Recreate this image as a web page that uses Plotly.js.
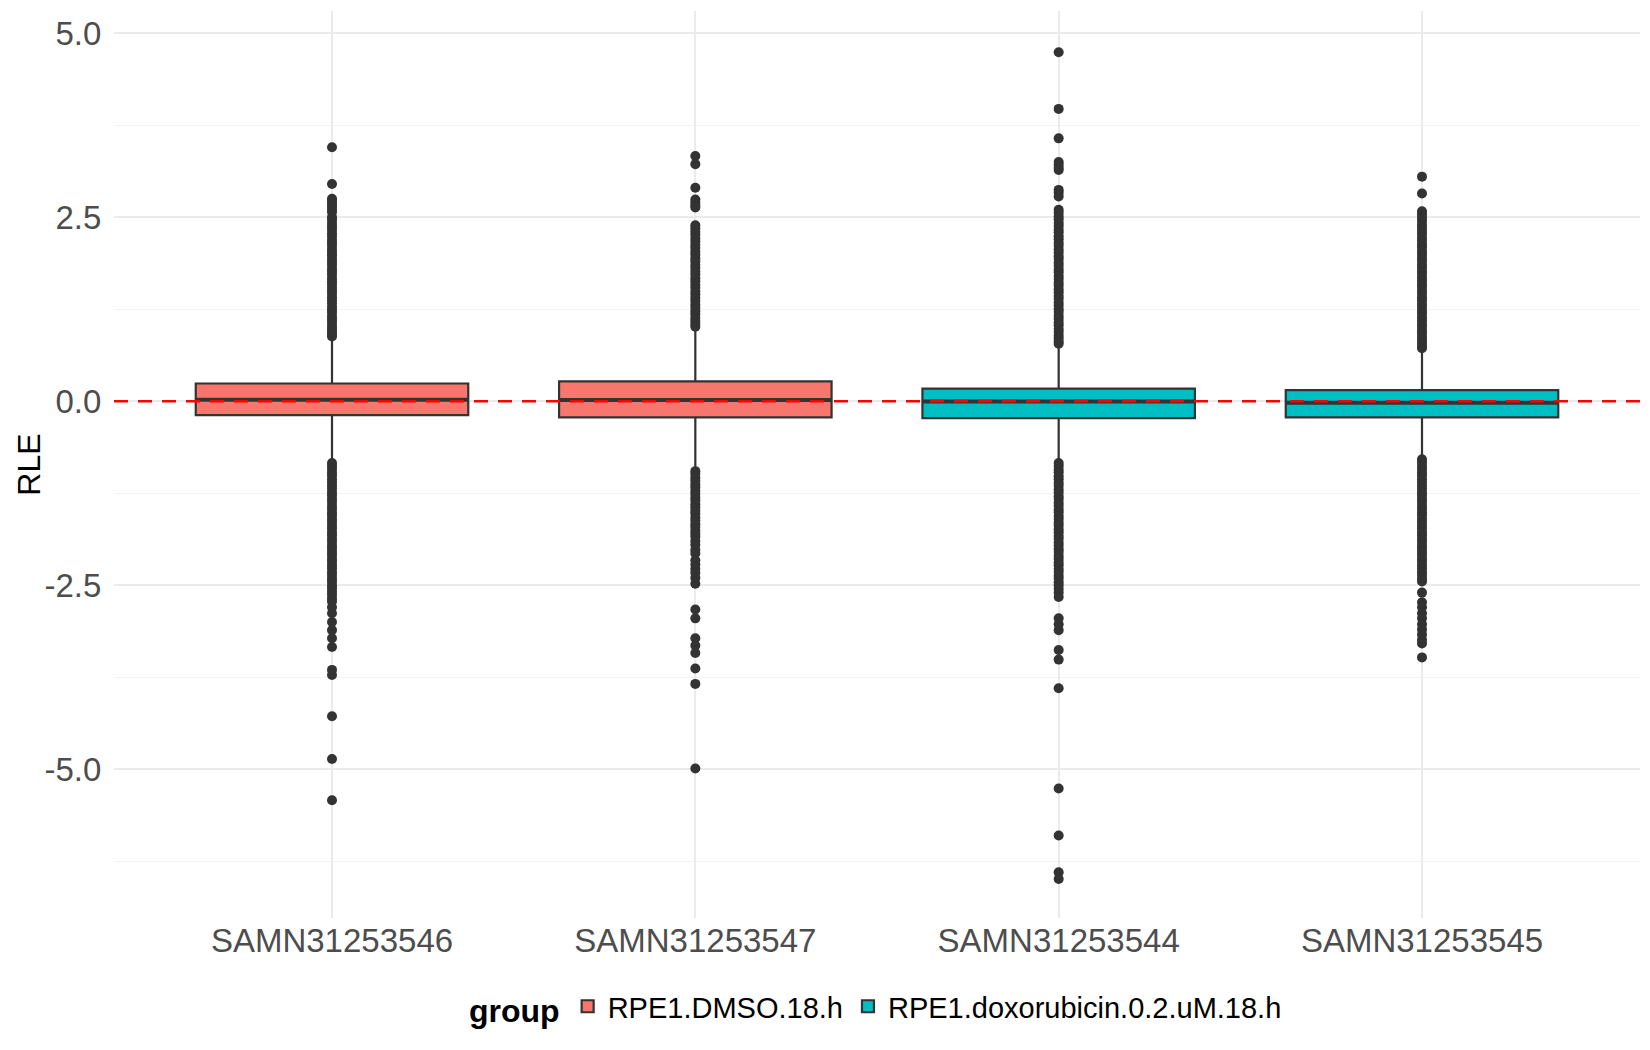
<!DOCTYPE html>
<html>
<head>
<meta charset="utf-8">
<script src="https://cdn.plot.ly/plotly-3.0.1.min.js"></script>
<style>
  html, body { margin: 0; padding: 0; background: #ffffff; }
  #chart { width: 1650px; height: 1050px; }
</style>
</head>
<body>
<div id="chart"></div>
<script>
// samples in axis order and their group
const samples = ["SAMN31253546", "SAMN31253547", "SAMN31253544", "SAMN31253545"];
const groups = ["RPE1.DMSO.18.h", "RPE1.DMSO.18.h", "RPE1.doxorubicin.0.2.uM.18.h", "RPE1.doxorubicin.0.2.uM.18.h"];
const groupNames = ["RPE1.DMSO.18.h", "RPE1.doxorubicin.0.2.uM.18.h"];
const groupColors = ["#F8766D", "#00BFC4"];

// box statistics
const q1 = [-0.19, -0.22, -0.23, -0.22];
const median = [0.02, 0.015, -0.005, -0.02];
const q3 = [0.24, 0.27, 0.17, 0.15];
const lowerFence = [-0.82, -0.94, -0.82, -0.78];
const upperFence = [0.87, 0.99, 0.77, 0.71];

// outlying points per sample
const out546 = [3.45, 2.95, 2.75, 2.72, 2.68, 2.64, 2.60, 2.57,
  2.50, 2.46, 2.41, 2.37, 2.33, 2.28, 2.24, 2.19, 2.15, 2.11, 2.06, 2.02, 1.98, 1.93, 1.89,
  1.85, 1.80, 1.76, 1.72, 1.67, 1.63, 1.59, 1.54, 1.50, 1.46, 1.41, 1.37, 1.33, 1.28, 1.24,
  1.20, 1.15, 1.11, 1.07, 1.02, 0.98, 0.94, 0.91, 0.88,
  -0.84, -0.88, -0.92, -0.97, -1.01, -1.06, -1.10, -1.15, -1.19, -1.24, -1.28, -1.33, -1.37,
  -1.42, -1.46, -1.51, -1.55, -1.60, -1.64, -1.69, -1.73, -1.78, -1.82, -1.87, -1.91, -1.96,
  -2.00, -2.05, -2.09, -2.14, -2.18, -2.23, -2.27, -2.32, -2.36, -2.41, -2.45, -2.50, -2.54,
  -2.59, -2.63, -2.68, -2.72, -2.80, -2.88, -3.00, -3.11, -3.22, -3.34,
  -3.65, -3.72, -4.28, -4.86, -5.42];
const out547 = [3.33, 3.22, 2.90, 2.74, 2.70, 2.66, 2.63,
  2.39, 2.35, 2.30, 2.26, 2.21, 2.17, 2.12, 2.08, 2.03, 1.99, 1.94, 1.90, 1.85, 1.81, 1.76,
  1.72, 1.67, 1.63, 1.58, 1.54, 1.49, 1.45, 1.40, 1.36, 1.31, 1.27, 1.22, 1.18, 1.13, 1.09,
  1.05, 1.01,
  -0.95, -0.99, -1.04, -1.08, -1.13, -1.17, -1.22, -1.26, -1.31, -1.35, -1.40, -1.44, -1.49,
  -1.53, -1.58, -1.62, -1.67, -1.71, -1.76, -1.80, -1.84, -1.90, -1.95, -2.02, -2.07,
  -2.16, -2.22, -2.28, -2.33, -2.40, -2.48, -2.83, -2.95, -3.22, -3.32, -3.42, -3.63, -3.84,
  -4.99];
const out544 = [4.74, 3.97, 3.57, 3.25, 3.21, 3.17, 3.14, 2.87, 2.83, 2.78,
  2.60, 2.56, 2.51, 2.47, 2.42, 2.38, 2.33, 2.29, 2.24, 2.20, 2.15, 2.11, 2.06, 2.02, 1.97,
  1.93, 1.88, 1.84, 1.79, 1.75, 1.70, 1.66, 1.61, 1.57, 1.52, 1.48, 1.43, 1.39, 1.34, 1.30,
  1.25, 1.21, 1.16, 1.12, 1.07, 1.03, 0.98, 0.94, 0.89, 0.85, 0.81, 0.78,
  -0.84, -0.88, -0.93, -0.97, -1.02, -1.06, -1.11, -1.15, -1.20, -1.24, -1.29, -1.33, -1.38,
  -1.42, -1.47, -1.51, -1.56, -1.60, -1.65, -1.69, -1.74, -1.78, -1.83, -1.87, -1.92, -1.96,
  -2.01, -2.05, -2.10, -2.14, -2.19, -2.23, -2.28, -2.32, -2.37, -2.41, -2.46, -2.50, -2.55,
  -2.60, -2.66, -2.95, -3.03, -3.11, -3.38, -3.51, -3.90, -5.26, -5.90, -6.40, -6.49];
const out545 = [3.05, 2.82,
  2.58, 2.54, 2.49, 2.45, 2.40, 2.36, 2.31, 2.27, 2.22, 2.18, 2.13, 2.09, 2.04, 2.00, 1.95,
  1.91, 1.86, 1.82, 1.77, 1.73, 1.68, 1.64, 1.59, 1.55, 1.50, 1.46, 1.41, 1.37, 1.32, 1.28,
  1.23, 1.19, 1.14, 1.10, 1.05, 1.01, 0.96, 0.92, 0.87, 0.83, 0.79, 0.75, 0.72,
  -0.79, -0.83, -0.88, -0.92, -0.97, -1.01, -1.06, -1.10, -1.15, -1.19, -1.24, -1.28, -1.33,
  -1.37, -1.42, -1.46, -1.51, -1.55, -1.60, -1.64, -1.69, -1.73, -1.78, -1.82, -1.87, -1.91,
  -1.96, -2.00, -2.05, -2.09, -2.14, -2.18, -2.23, -2.27, -2.32, -2.36, -2.41, -2.45,
  -2.60, -2.73, -2.80, -2.88, -2.95, -3.03, -3.10, -3.17, -3.24, -3.29, -3.48];
const outliers = [out546, out547, out544, out545];

// y axis ticks
const yTickVals = [-5, -2.5, 0, 2.5, 5];
const yTickText = ["-5.0", "-2.5", "0.0", "2.5", "5.0"];

const dark = "#333333";
const boxWidth = 0.75;

const traces = [];

// one box trace per group
groupNames.forEach((g, gi) => {
  const idx = samples.map((s, i) => i).filter(i => groups[i] === g);
  traces.push({
    type: "box",
    name: g,
    x: idx.map(i => samples[i]),
    q1: idx.map(i => q1[i]),
    median: idx.map(i => median[i]),
    q3: idx.map(i => q3[i]),
    lowerfence: idx.map(i => lowerFence[i]),
    upperfence: idx.map(i => upperFence[i]),
    boxpoints: false,
    width: boxWidth,
    whiskerwidth: 0,
    fillcolor: groupColors[gi],
    line: { color: dark, width: 2.2 },
    hoverinfo: "y"
  });
});

// outlier dots
samples.forEach((s, i) => {
  traces.push({
    type: "scatter",
    mode: "markers",
    x: outliers[i].map(() => s),
    y: outliers[i],
    marker: { color: dark, size: 10 },
    showlegend: false,
    hoverinfo: "y"
  });
});

// thick median bars (ggplot fattens them), then the dashed zero line
const shapes = samples.map((s, i) => ({
  type: "line",
  xref: "x", yref: "y",
  x0: i - boxWidth / 2, x1: i + boxWidth / 2,
  y0: median[i], y1: median[i],
  line: { color: dark, width: 4 }
}));
shapes.push({
  type: "line",
  xref: "paper", yref: "y",
  x0: 0, x1: 1, y0: 0, y1: 0,
  line: { color: "#FF0000", width: 2.4, dash: "14px,10px" }
});

const layout = {
  width: 1650,
  height: 1050,
  margin: { l: 114, r: 10, t: 11, b: 132 },
  paper_bgcolor: "#ffffff",
  plot_bgcolor: "#ffffff",
  font: { family: "Liberation Sans, Arial, sans-serif", color: "#4D4D4D" },
  boxmode: "overlay",
  showlegend: true,
  xaxis: {
    type: "category",
    categoryorder: "array",
    categoryarray: samples,
    range: [-0.6, 3.6],
    showgrid: true,
    gridcolor: "#EBEBEB",
    gridwidth: 1.8,
    zeroline: false,
    showline: false,
    ticks: "",
    tickfont: { size: 33, color: "#4D4D4D" }
  },
  yaxis: {
    range: [-7.02, 5.30],
    tickvals: yTickVals,
    ticktext: yTickText,
    showgrid: true,
    gridcolor: "#EBEBEB",
    gridwidth: 1.8,
    minor: { dtick: 1.25, tick0: 0, showgrid: true, gridcolor: "#F2F2F2", gridwidth: 1.2 },
    zeroline: false,
    showline: false,
    ticks: "outside",
    ticklen: 5,
    tickcolor: "rgba(0,0,0,0)",
    tickfont: { size: 33, color: "#4D4D4D" },
    title: { text: "RLE", font: { size: 32, color: "#000000" } }
  },
  legend: {
    orientation: "h",
    x: 0.5, xanchor: "center",
    y: -0.098, yanchor: "middle",
    font: { size: 29, color: "#000000" },
    title: { text: "group", side: "left", font: { size: 32, color: "#000000", weight: "bold" } },
    itemwidth: 30,
    traceorder: "normal"
  },
  shapes: shapes
};

Plotly.newPlot("chart", traces, layout, { displayModeBar: false, staticPlot: true });
</script>
</body>
</html>
